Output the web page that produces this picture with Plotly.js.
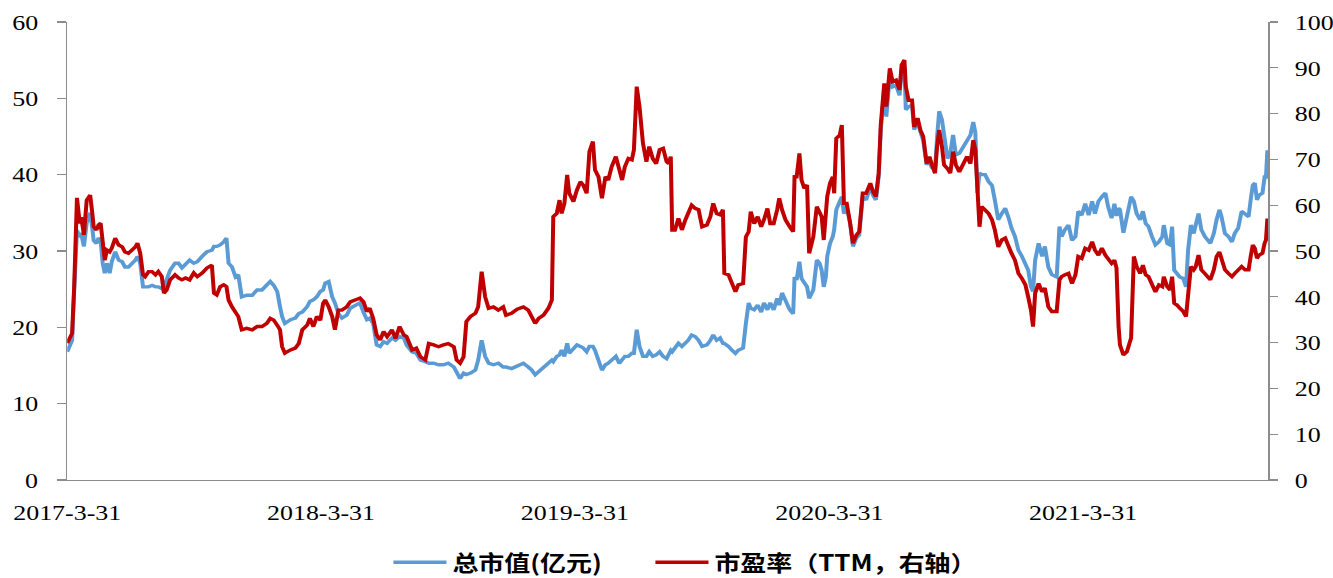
<!DOCTYPE html>
<html><head><meta charset="utf-8">
<script src="https://cdn.plot.ly/plotly-3.0.1.min.js"></script>
<style>
html,body{margin:0;padding:0;background:#fff;overflow:hidden;}
#wrap{width:1333px;height:578px;overflow:hidden;}
#chart{width:1130px;height:578px;transform:scaleX(1.1796);transform-origin:0 0;}
</style></head><body><div id="wrap"><div id="chart"></div></div>
<script>
const dates=['2017-03-31','2017-04-07','2017-04-10','2017-04-14','2017-04-18','2017-04-20','2017-04-23','2017-04-24','2017-04-28','2017-05-03',
'2017-05-06','2017-05-08','2017-05-12','2017-05-15','2017-05-18','2017-05-21','2017-05-24','2017-05-27','2017-05-31','2017-06-03',
'2017-06-08','2017-06-13','2017-06-18','2017-06-22','2017-06-27','2017-07-02','2017-07-07','2017-07-10','2017-07-14','2017-07-18',
'2017-07-21','2017-07-26','2017-07-31','2017-08-05','2017-08-09','2017-08-14','2017-08-17','2017-08-21','2017-08-26','2017-09-02',
'2017-09-07','2017-09-12','2017-09-17','2017-09-23','2017-09-29','2017-10-04','2017-10-11','2017-10-18','2017-10-25','2017-10-28',
'2017-11-01','2017-11-06','2017-11-11','2017-11-15','2017-11-18','2017-11-23','2017-11-28','2017-12-02','2017-12-07','2017-12-14',
'2017-12-22','2017-12-29','2018-01-05','2018-01-12','2018-01-17','2018-01-22','2018-01-27','2018-01-31','2018-02-03','2018-02-07',
'2018-02-15','2018-02-22','2018-02-27','2018-03-04','2018-03-11','2018-03-15','2018-03-20','2018-03-25','2018-03-30','2018-04-03',
'2018-04-06','2018-04-11','2018-04-16','2018-04-20','2018-04-25','2018-04-30','2018-05-07','2018-05-12','2018-05-19','2018-05-26',
'2018-05-31','2018-06-05','2018-06-09','2018-06-14','2018-06-19','2018-06-24','2018-06-29','2018-07-04','2018-07-11','2018-07-16',
'2018-07-22','2018-07-28','2018-08-01','2018-08-09','2018-08-15','2018-08-21','2018-08-28','2018-09-02','2018-09-09','2018-09-16',
'2018-09-23','2018-09-30','2018-10-08','2018-10-12','2018-10-17','2018-10-22','2018-10-26','2018-11-01','2018-11-08','2018-11-12',
'2018-11-17','2018-11-22','2018-11-27','2018-12-04','2018-12-11','2018-12-18','2018-12-22','2018-12-30','2019-01-07','2019-01-16',
'2019-01-23','2019-01-28','2019-02-02','2019-02-07','2019-02-14','2019-02-21','2019-02-26','2019-02-28','2019-03-05','2019-03-09',
'2019-03-12','2019-03-16','2019-03-20','2019-03-23','2019-03-29','2019-04-03','2019-04-08','2019-04-12','2019-04-17','2019-04-21',
'2019-04-26','2019-04-29','2019-05-04','2019-05-09','2019-05-14','2019-05-18','2019-05-23','2019-05-29','2019-06-03','2019-06-07',
'2019-06-11','2019-06-16','2019-06-21','2019-06-24','2019-06-28','2019-07-02','2019-07-07','2019-07-12','2019-07-16','2019-07-21',
'2019-07-26','2019-07-31','2019-08-05','2019-08-10','2019-08-13','2019-08-16','2019-08-18','2019-08-22','2019-08-27','2019-09-01',
'2019-09-06','2019-09-10','2019-09-15','2019-09-20','2019-09-25','2019-09-30','2019-10-07','2019-10-12','2019-10-16','2019-10-21',
'2019-10-26','2019-10-30','2019-11-01','2019-11-07','2019-11-12','2019-11-17','2019-11-21','2019-11-28','2019-12-02','2019-12-06',
'2019-12-09','2019-12-14','2019-12-19','2019-12-24','2019-12-28','2020-01-02','2020-01-06','2020-01-11','2020-01-16','2020-01-19',
'2020-01-23','2020-01-28','2020-02-03','2020-02-08','2020-02-10','2020-02-13','2020-02-17','2020-02-20','2020-02-24','2020-02-28',
'2020-03-02','2020-03-08','2020-03-13','2020-03-17','2020-03-20','2020-03-23','2020-03-26','2020-03-28','2020-04-01','2020-04-05',
'2020-04-07','2020-04-10','2020-04-15','2020-04-18','2020-04-21','2020-04-25','2020-04-30','2020-05-04','2020-05-09','2020-05-13',
'2020-05-18','2020-05-23','2020-05-29','2020-06-02','2020-06-06','2020-06-10','2020-06-13','2020-06-18','2020-06-21','2020-06-26',
'2020-06-30','2020-07-05','2020-07-10','2020-07-13','2020-07-17','2020-07-19','2020-07-23','2020-07-28','2020-07-31','2020-08-05',
'2020-08-09','2020-08-13','2020-08-18','2020-08-22','2020-08-25','2020-08-30','2020-09-02','2020-09-05','2020-09-09','2020-09-12',
'2020-09-17','2020-09-21','2020-09-25','2020-09-29','2020-10-04','2020-10-10','2020-10-15','2020-10-20','2020-10-24','2020-10-27',
'2020-10-30','2020-11-02','2020-11-05','2020-11-10','2020-11-15','2020-11-20','2020-11-24','2020-11-29','2020-12-04','2020-12-09',
'2020-12-14','2020-12-18','2020-12-23','2020-12-28','2021-01-02','2021-01-07','2021-01-11','2021-01-15','2021-01-18','2021-01-21',
'2021-01-26','2021-01-31','2021-02-04','2021-02-09','2021-02-14','2021-02-21','2021-02-25','2021-02-28','2021-03-05','2021-03-10',
'2021-03-15','2021-03-20','2021-03-24','2021-03-29','2021-04-03','2021-04-08','2021-04-13','2021-04-17','2021-04-22','2021-04-27',
'2021-05-02','2021-05-06','2021-05-11','2021-05-15','2021-05-18','2021-05-21','2021-05-23','2021-05-28','2021-06-02','2021-06-08',
'2021-06-12','2021-06-16','2021-06-21','2021-06-25','2021-06-29','2021-07-03','2021-07-08','2021-07-13','2021-07-18','2021-07-23',
'2021-07-25','2021-07-30','2021-08-03','2021-08-06','2021-08-09','2021-08-13','2021-08-17','2021-08-22','2021-08-26','2021-08-29',
'2021-09-02','2021-09-06','2021-09-09','2021-09-13','2021-09-17','2021-09-22','2021-09-30','2021-10-05','2021-10-09','2021-10-13',
'2021-10-16','2021-10-21','2021-10-26','2021-10-31','2021-11-04','2021-11-09','2021-11-14','2021-11-19','2021-11-24','2021-11-27',
'2021-11-30','2021-12-03','2021-12-06','2021-12-09','2021-12-14','2021-12-17','2021-12-19','2021-12-21'];

const marketCap=[16.8,18.3,24.9,32.7,31.8,32.4,31,30.6,33.7,35,
33,31.4,31,31.7,31.4,28.4,27.1,28.4,27.1,28.6,
29.9,28.8,28.6,27.9,27.9,28.4,28.8,29.3,28.4,25.3,
25.3,25.3,25.5,25.3,25.3,25.1,25.3,26.2,27.5,28.4,
28.4,27.8,28.2,28.8,28.4,28.6,29.3,29.9,30.1,30.6,
30.6,30.8,31.2,31.7,28.4,27.9,26.6,26.9,24,24.2,
24.2,24.9,24.9,25.5,26,25.5,24.7,22.7,21.4,20.5,
21,21.2,21.8,22,22.7,23.4,23.6,24,24.7,24.9,
25.8,26,24,23.2,21.8,21.2,21.6,22.5,22.9,23.2,
22,21,21.2,20.5,17.7,17.5,18.1,17.9,18.6,18.3,
18.8,18.6,17.7,16.8,16.6,15.7,15.5,15.3,15.3,15.1,
15.1,15.3,14.8,14,13.3,14,13.8,14,14.4,15.7,
18.3,16.2,15.3,15.1,15.3,14.8,14.8,14.6,14.9,15.3,
14.8,14.4,13.8,14.2,14.8,15.3,15.7,15.5,16.2,16.4,
17,16.2,17.9,16.6,17.3,17.7,17.5,17.3,16.8,17.5,
17.5,17,15.7,14.4,15.1,15.3,15.7,16.2,15.3,15.7,
16.2,16.2,16.6,16.6,19.7,17.5,16.2,16.2,16.8,16.2,
16.4,16.8,16.2,15.9,16.6,17,16.8,17.3,17.9,17.5,
17.9,18.3,19,18.8,18.3,17.5,17.7,18.3,19,18.3,
18.6,17.9,17.9,17.5,17,16.6,17,17.3,20.5,23.2,
22.5,22.3,22.9,22,23.2,22.3,23.2,22.3,23.8,22.9,
24.5,23.4,22.3,21.8,26.6,26.2,28.6,26.4,25.8,25.3,
23.8,24.9,28.8,28.4,27.5,25.3,26.6,29.3,31,31.9,
32.8,35.4,36.5,37.1,34.9,35.8,33.6,30.6,31.7,32.1,
37.1,36.7,38.4,37.3,36.7,39.7,45.9,51.1,47.6,53.1,
51.5,51.7,50.4,53.7,54.1,48.5,48.9,49.1,45.9,46.9,
45.6,44.5,41.3,41.9,41,40.6,45,48.3,47.2,45.4,
42.1,42.8,45.2,42.6,42.8,43.7,44.5,45.2,46.9,45.5,
37.6,40.2,40,40,39.1,38.6,36.7,34.1,34.9,35.6,
34.3,33,31.9,30.1,29.3,28.4,27.5,25.3,24.7,28.8,
31,29.3,30.6,27.9,26.9,26.6,33.2,31.9,32.8,33.4,
31.4,31.9,35.2,34.7,36.2,34.7,36.5,34.9,36.5,37.1,
37.6,35.8,34.3,36.2,34.6,35.6,35.4,32.4,34.3,37.1,
36.5,34.9,34.1,35.2,33.6,33.2,31.9,30.8,31.2,31.9,
33.4,31,30.8,33.2,27.5,27.1,26.6,26.4,25.3,30.1,
33.4,32.3,33.4,34.9,32.8,31.9,31,32.3,34.1,35.4,
34.5,32.3,31.9,31.2,32.3,33,35.2,34.9,34.5,36.7,
38.6,38.9,36.7,37.3,37.6,39.7,39.7,43.2];

const peTTM=[29.9,32,42.2,61.6,56,57.4,54.6,53.5,61.1,62.2,
58.3,55.3,54.6,55.7,56.1,50.9,48,50.2,49.8,50.6,
52.8,51.3,50.9,49.8,49.5,50.2,50.9,51.7,49.5,44.8,
44.4,45.5,45.5,44.8,45.5,44.4,40.8,41.5,43.7,44.8,
44.1,43.7,44.1,43.7,45.2,44.4,45.2,46.3,46.9,40.8,
40.4,42.2,42.6,42.2,39.3,37.8,36.4,35.7,32.8,33.1,
32.8,33.5,33.5,34.2,35.3,34.9,33.8,32.8,29.1,27.7,
28.4,28.8,29.8,32.8,33.8,35.3,33.5,35.7,34.9,38.6,
39.3,37.8,35.7,32.8,37.1,37.1,37.8,38.9,39.3,39.7,
38.9,36.8,37.5,35.3,31.7,30.6,32.4,31.3,32.8,30.9,
33.5,31.7,31.3,28.4,28.8,26.9,26.2,29.8,29.5,29.1,
29.5,29.8,29.1,26.2,25.5,26.9,34.6,35.7,36.4,37.8,
45.5,40,37.5,37.8,37.1,37.8,36,36.4,37.3,37.8,
37.1,35.7,34.2,35.3,36,37.5,39.3,57.5,58.2,61.1,
58.2,60.4,66.6,62.6,60.8,63.3,65.1,64.4,62.6,71.7,
73.9,67.7,66.2,61.5,66.2,65.5,68.4,70.6,67.7,65.5,
68.4,70.2,69.9,72.1,85.9,81.5,73.5,69.5,72.8,70.2,
69.1,72.1,72.4,69.5,69.1,70.6,54.6,54.6,57.1,54.6,
56.8,58.2,60,59.3,59,55.3,55.7,57.5,60.4,58.2,
57.9,59,45.1,44.8,42.9,41.1,42.6,42.9,53.1,54.2,
58.6,56,57.5,55.3,56.8,59.3,56,56,59,61.5,
59,56.8,55.3,54.2,66.2,66.2,71.3,65.5,63.7,64.4,
49.5,53.1,59.7,58.2,57.5,52.4,57.5,61.9,64.8,66.2,
62.6,74.6,75.3,77.5,60.4,60.4,56,51.7,53.5,54.2,
62.6,62.6,64.8,62.9,61.9,67,77.5,86.6,81.5,89.9,
87,87.3,85.2,90.6,91.7,85.9,82.9,82.9,77.1,79,
76.4,75,69.1,70.6,69.1,67,72.8,76.4,72.8,68.8,
68,67,71.7,68.8,67.3,69.1,70.6,69.1,74.2,72,
61.1,55.3,59.7,59,58.2,56.8,54.6,50.9,52.4,52.8,
50.6,49.5,48,45.1,44,42.6,40,37.1,33.5,40.8,
42.9,41.1,41.9,37.8,36.8,36.8,43.7,44.4,44.8,45.1,
42.9,44.8,48.8,48.4,50.6,50.2,52,50.2,49.1,50.6,
49.1,48.4,47.3,48,46.3,33.5,29.5,27.3,28,31,
48.8,46.6,45.1,46.9,44.8,44.4,42.9,41.1,42.6,42.2,
44.4,42.2,41.5,44.4,38.6,38.2,37.5,36.8,35.7,40,
46.6,45.9,46.6,49.1,45.9,45.1,43.7,45.9,48.8,49.8,
48.4,45.9,45.1,44.4,45.1,45.9,46.6,45.9,45.9,48.8,
51.3,50.6,48.4,49.1,49.5,51.7,52.4,57.1];

const seriesNames=['总市值(亿元)','市盈率（TTM，右轴）'];
const xTickVals=['2017-03-31','2018-03-31','2019-03-31','2020-03-31','2021-03-31'];
const xTickText=['2017-3-31','2018-3-31','2019-3-31','2020-3-31','2021-3-31'];

const axisGrey='#8c8c8c';
const tickFont={family:'Liberation Serif, Times New Roman, serif',size:22,color:'#000'};
const legendFont={family:'Noto Sans CJK SC, sans-serif',size:22,color:'#000',weight:700};

const traces=[
 {x:dates,y:marketCap,type:'scatter',mode:'lines',name:seriesNames[0],
  line:{color:'#5B9BD5',width:3.4},yaxis:'y',legend:'legend'},
 {x:dates,y:peTTM,type:'scatter',mode:'lines',name:seriesNames[1],
  line:{color:'#C00000',width:3.4},yaxis:'y2',legend:'legend2'}
];

const layout={
 width:1130,height:578,
 margin:{l:57,r:55,t:22,b:98,pad:0,autoexpand:false},
 paper_bgcolor:'#fff',plot_bgcolor:'#fff',
 showlegend:true,
 xaxis:{type:'date',range:['2017-03-31','2021-12-22'],tickmode:'array',automargin:false,
  tickvals:xTickVals,ticktext:xTickText,showline:true,linecolor:axisGrey,linewidth:1.3,
  ticks:'',showgrid:false,zeroline:false,tickfont:tickFont,ticklabelstandoff:12,fixedrange:true},
 yaxis:{range:[0,60],tick0:0,dtick:10,showline:true,linecolor:axisGrey,linewidth:1.3,automargin:false,
  ticks:'outside',ticklen:7,tickcolor:axisGrey,tickwidth:1.3,showgrid:false,zeroline:false,
  tickfont:tickFont,ticklabelstandoff:12,fixedrange:true},
 yaxis2:{range:[0,100],tick0:0,dtick:10,overlaying:'y',side:'right',showline:true,automargin:false,
  linecolor:axisGrey,linewidth:1.3,ticks:'outside',ticklen:7,tickcolor:axisGrey,tickwidth:1.3,
  showgrid:false,zeroline:false,tickfont:tickFont,ticklabelstandoff:10,fixedrange:true},
 legend:{orientation:'h',x:0.2667,xanchor:'left',y:-0.18,yanchor:'middle',itemwidth:45,
  font:legendFont,bgcolor:'rgba(0,0,0,0)'},
 legend2:{orientation:'h',x:0.4849,xanchor:'left',y:-0.18,yanchor:'middle',itemwidth:45,
  font:legendFont,bgcolor:'rgba(0,0,0,0)'}
};

Plotly.newPlot('chart',traces,layout,{staticPlot:true,displayModeBar:false});
</script>
</body></html>
